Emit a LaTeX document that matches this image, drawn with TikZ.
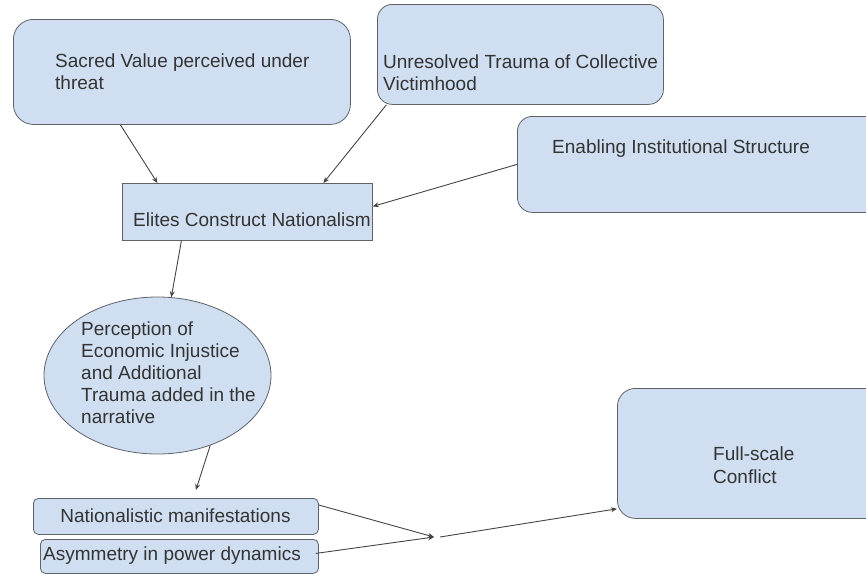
\documentclass[tikz,border=0pt]{standalone}
\usepackage{fontspec}
\setmainfont{Liberation Sans}
\usetikzlibrary{shapes.geometric,arrows.meta}
\definecolor{boxfill}{HTML}{CFDFF1}
\definecolor{boxline}{HTML}{5F6368}
\definecolor{txtcol}{HTML}{333333}
\definecolor{arrcol}{HTML}{444444}
\begin{document}
\begin{tikzpicture}[x=1pt,y=1pt,
  box/.style={draw=boxline,fill=boxfill,line width=0.8pt,inner sep=0pt,anchor=north west},
  txt/.style={text=txtcol,font=\fontsize{19}{22.5}\selectfont,inner sep=0pt,align=left,anchor=north west},
  conn/.style={draw=arrcol,line width=0.9pt,-{Stealth[length=6pt,width=5pt]}}]
\useasboundingbox (0,0) rectangle (866,-574);
% boxes
\node[box,rounded corners=20pt,minimum width=337pt,minimum height=105pt] (sacred) at (13,-19) {};
\node[box,rounded corners=15pt,minimum width=286pt,minimum height=100pt] (unres) at (377,-4) {};
\node[box,rounded corners=15pt,minimum width=370pt,minimum height=96pt] (enab) at (517,-116) {};
\node[box,minimum width=250pt,minimum height=57pt] (elites) at (122,-183) {};
\node[draw=boxline,fill=boxfill,line width=0.8pt,ellipse,inner sep=0pt,minimum width=227pt,minimum height=157pt] (ell) at (157.5,-375.5) {};
\node[box,rounded corners=5pt,minimum width=285pt,minimum height=36pt] (nat) at (33,-498) {};
\node[box,rounded corners=5pt,minimum width=278pt,minimum height=34pt] (asym) at (40,-539) {};
\node[box,rounded corners=18pt,minimum width=270pt,minimum height=130pt] (confl) at (617,-388) {};
% texts
\node[txt] (tsacred) at (55,-53.5) {Sacred Value perceived under\\threat};
\node[txt] (tunres) at (383,-54.5) {Unresolved Trauma of Collective\\Victimhood};
\node[txt] (tenab) at (552,-139.5) {Enabling Institutional Structure};
\node[txt] (telites) at (133,-212.5) {Elites Construct Nationalism};
\node[txt,font=\fontsize{19}{22}\selectfont] (tell) at (81,-321.5) {Perception of\\Economic Injustice\\and Additional\\Trauma added in the\\narrative};
\node[txt,anchor=center] (tnat) at (175.5,-516) {Nationalistic manifestations};
\node[txt,anchor=center] (tasym) at (172,-556) {Asymmetry in power dynamics};
\node[txt,font=\fontsize{19}{23}\selectfont] (tconfl) at (713,-446.5) {Full-scale\\Conflict};
% junction
\coordinate (j) at (434,-537);
% connectors
\draw[conn] ([xshift=-61.5pt]sacred.south) -- ([xshift=-90pt]elites.north);
\draw[conn] ([xshift=-134pt]unres.south) -- ([xshift=76pt]elites.north);
\draw[conn] (enab.west) -- ([yshift=5.5pt]elites.east);
\draw[conn] ([xshift=-66pt]elites.south) -- (ell.80);
\draw[conn] (ell.-53) -- ([xshift=20pt,yshift=8pt]nat.north);
\draw[conn] ([yshift=-7pt]nat.north east) -- (j);
\draw[conn] ([xshift=-3pt,yshift=3pt]asym.east) -- (j);
\draw[conn] ([xshift=6pt]j) -- ([yshift=10pt]confl.south west);
\end{tikzpicture}
\end{document}
